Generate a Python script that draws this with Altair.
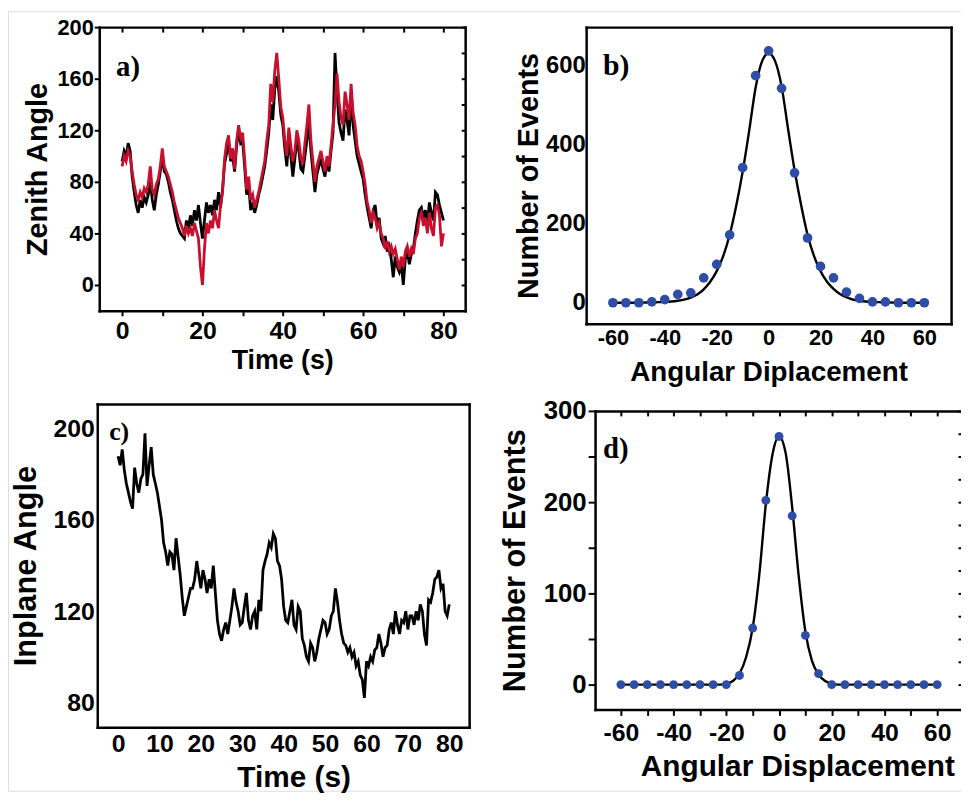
import altair as alt
import pandas as pd

# ---------------- data ----------------
TIME_STEP = 0.5  # s between samples

zenith_black = [
    96, 104, 100, 110, 104, 84, 72, 62, 56, 66,
    60, 68, 64, 70, 80, 66, 58, 70, 78, 88,
    100, 88, 86, 80, 72, 66, 58, 50, 44, 40,
    38, 36, 50, 44, 54, 46, 58, 50, 62, 48,
    36, 50, 64, 56, 62, 54, 66, 58, 72, 60,
    74, 94, 102, 112, 96, 100, 88, 108, 120, 110,
    112, 92, 70, 78, 58, 64, 56, 62, 70, 76,
    84, 92, 104, 118, 140, 128, 152, 162, 150, 132,
    124, 106, 92, 114, 100, 84, 98, 112, 104, 90,
    88, 100, 112, 126, 104, 88, 72, 86, 92, 98,
    90, 84, 96, 88, 104, 118, 180, 150, 126, 118,
    112, 136, 128, 116, 146, 124, 112, 100, 94, 88,
    82, 70, 60, 52, 44, 58, 62, 46, 52, 36,
    32, 38, 26, 30, 20, 6, 22, 14, 10, 16,
    0, 20, 26, 16, 24, 28, 40, 50, 58, 60,
    52, 58, 48, 64, 56, 50, 72, 70, 62, 56,
    50,
]

zenith_red = [
    92, 100, 96, 104, 100, 88, 78, 70, 66, 72,
    68, 75, 72, 78, 92, 74, 70, 78, 82, 92,
    106, 92, 88, 84, 78, 72, 64, 58, 52, 48,
    44, 38, 46, 40, 44, 38, 48, 42, 36, 14,
    0, 28, 48, 40, 50, 44, 58, 50, 44, 62,
    72, 98, 110, 116, 98, 106, 90, 112, 124, 114,
    118, 98, 74, 84, 66, 70, 60, 66, 72, 80,
    88, 96, 112, 124, 156, 142, 166, 180, 160, 138,
    130, 112, 100, 122, 108, 96, 104, 120, 112, 98,
    94, 110, 124, 140, 112, 96, 80, 92, 98, 104,
    96, 88, 100, 92, 108, 124, 140, 164, 142, 130,
    124, 150, 140, 128, 156, 134, 124, 108, 100, 96,
    88, 78, 64, 58, 48, 56, 52, 44, 48, 40,
    36, 28, 34, 26, 30, 24, 28, 20, 12, 22,
    14, 26, 30, 22, 28, 24, 36, 40, 52, 56,
    46, 52, 40, 56, 44, 38, 60, 62, 54, 30,
    40,
]

inplane = [
    188, 184, 191, 182, 176, 172, 168, 165, 183, 176,
    172, 178, 180, 198, 175, 184, 192, 180, 176, 172,
    166, 160, 150, 146, 140, 146, 145, 138, 152, 144,
    136, 126, 118, 122, 126, 130, 130, 134, 142, 136,
    130, 138, 134, 128, 134, 130, 140, 128, 116, 110,
    107, 112, 115, 110, 116, 122, 130, 124, 120, 114,
    115, 122, 128, 116, 112, 118, 120, 112, 125, 120,
    138, 142, 145, 150, 148, 154, 152, 142, 140, 134,
    122, 116, 115, 120, 125, 114, 112, 122, 120, 108,
    105, 100, 98, 106, 104, 98, 102, 108, 112, 116,
    115, 110, 112, 118, 120, 130, 124, 116, 110, 106,
    105, 102, 104, 100, 102, 96, 98, 92, 90, 82,
    98, 96, 100, 98, 103, 104, 110, 106, 100, 104,
    105, 112, 115, 110, 120, 114, 110, 116, 115, 120,
    112, 118, 118, 114, 120, 116, 123, 120, 110, 105,
    125, 124, 128, 134, 135, 138, 130, 132, 120, 118,
    123,
]

bin_angle = [-60, -55, -50, -45, -40, -35, -30, -25, -20, -15, -10, -5, 0,
             5, 10, 15, 20, 25, 30, 35, 40, 45, 50, 55, 60]
b_events = [0, 0, 0, 2, 8, 21, 25, 63, 97, 172, 342, 575, 638,
            543, 329, 164, 92, 63, 27, 11, 2, 2, 0, 0, 0]
d_events = [0, 0, 0, 0, 0, 0, 0, 0, 0, 10, 62, 202, 272,
            185, 54, 12, 0, 0, 0, 0, 0, 0, 0, 0, 0]

FIT_STEP = 2.5
b_fit = [0, 0, 0, 0, 0, 0.5, 1, 1.5, 2, 3, 5, 8, 13, 21, 34, 53, 80, 118, 172,
         245, 332, 435, 545, 612, 632, 612, 548, 440, 336, 248, 172, 118, 80,
         53, 35, 22, 14, 8, 5, 3, 2, 1.5, 1, 0.5, 0, 0, 0, 0, 0]
d_fit = [0, 0, 0, 0, 0, 0, 0, 0, 0, 0, 0, 0, 0, 0, 0, 0, 1,
         4, 12, 30, 62, 120, 198, 252, 272, 254, 194, 118, 58, 26, 11, 4,
         1, 0, 0, 0, 0, 0, 0, 0, 0, 0, 0, 0, 0, 0, 0, 0, 0]

times = [i * TIME_STEP for i in range(len(zenith_red))]
fit_angle = [-60 + i * FIT_STEP for i in range(len(b_fit))]

df_a = pd.DataFrame({"t": times, "black": zenith_black, "red": zenith_red})
df_c = pd.DataFrame({"t": times, "angle": inplane})
df_b = pd.DataFrame({"angle": bin_angle, "events": b_events})
df_bf = pd.DataFrame({"angle": fit_angle, "fit": b_fit})
df_d = pd.DataFrame({"angle": bin_angle, "events": d_events})
df_df = pd.DataFrame({"angle": fit_angle, "fit": d_fit})

# ---------------- styling helpers ----------------
W, H = 961, 786
FONT = "Liberation Sans"
SERIF = "Liberation Serif"
RED = "#C8102E"
BLUE = "#2E4DA7"
TRACE_W = 2.8


def axis(orient, offset, values=None, tick=None, labels=False, lsize=None,
         lpad=0, lexpr=None, title=None, tsize=None, tpad=0, titleX=None):
    kw = dict(orient=orient, offset=offset, domain=True, domainColor="#000000",
              domainWidth=2.5, domainOpacity=1, domainCap="square", grid=False)
    if values is not None:
        kw["values"] = values
    if tick is None:
        kw["ticks"] = False
    else:
        kw.update(ticks=True,
                  tickSize=tick if tick >= 0 else {"expr": str(tick)},
                  tickColor="#000000", tickWidth=2, tickOpacity=1)
    if labels:
        kw.update(labels=True, labelFont=FONT, labelFontSize=lsize,
                  labelFontWeight="bold", labelColor="#000000",
                  labelPadding=lpad, labelOverlap=False, labelFlush=False)
        if lexpr:
            kw["labelExpr"] = lexpr
    else:
        kw["labels"] = False
    if title:
        kw.update(title=title, titleFont=FONT, titleFontSize=tsize,
                  titleFontWeight="bold", titleColor="#000000", titlePadding=tpad)
        if titleX is not None:
            kw["titleX"] = titleX
    else:
        kw["title"] = None
    return alt.Axis(**kw)


def sc(domain, rng):
    return alt.Scale(domain=domain, range=rng, nice=False, zero=False)


def panel_label(text, x, y, size):
    return alt.Chart(pd.DataFrame({"lab": [text]})).mark_text(
        font=SERIF, fontWeight="bold", fontSize=size, align="left",
        baseline="alphabetic", color="black"
    ).encode(text="lab:N", x=alt.value(x), y=alt.value(y))


# ---------------- panel a ----------------
La, Ra, Ta, Ba = 92, 461, 16, 302
xa = sc([-5.7, 85.4], [La, Ra])
ya = sc([-20, 200], [Ba, Ta])
a1 = alt.Chart(df_a).mark_line(color="black", strokeWidth=TRACE_W).encode(
    x=alt.X("t:Q", scale=xa, axis=axis(
        "bottom", Ba - H, values=list(range(0, 81, 10)), tick=5, labels=True,
        lsize=25, lpad=3, lexpr="datum.value % 20 === 0 ? datum.label : ''",
        title="Time (s)", tsize=27, tpad=4)),
    y=alt.Y("black:Q", scale=ya, axis=axis(
        "left", -La, values=list(range(0, 201, 40)), tick=5, labels=True,
        lsize=22, lpad=1, title="Zenith Angle", tsize=29, tpad=4)),
)
a2 = alt.Chart(df_a).mark_line(color=RED, strokeWidth=TRACE_W).encode(
    x=alt.X("t:Q", scale=xa, axis=axis("top", -Ta, values=list(range(0, 81, 10)), tick=-5)),
    y=alt.Y("red:Q", scale=ya, axis=axis("right", Ra - W, values=list(range(0, 201, 20)), tick=-4)),
)

# ---------------- panel b ----------------
Lb, Rb, Tb, Bb = 583, 951, 16, 315
xb = sc([-70.3, 70.3], [Lb, Rb])
yb = sc([-53, 698], [Bb, Tb])
b1 = alt.Chart(df_bf).mark_line(color="black", strokeWidth=2.4, interpolate="monotone").encode(
    x=alt.X("angle:Q", scale=xb, axis=axis(
        "bottom", Bb - H, values=list(range(-60, 61, 20)), labels=True, lsize=22,
        lpad=4, lexpr="'' + datum.value", title="Angular Diplacement", tsize=28, tpad=10)),
    y=alt.Y("fit:Q", scale=yb, axis=axis(
        "left", -Lb, values=[0, 200, 400, 600], labels=True, lsize=24, lpad=1,
        title="Number of Events", tsize=29, tpad=2)),
)
b2 = alt.Chart(df_b).mark_circle(color=BLUE, size=95, opacity=1).encode(
    x=alt.X("angle:Q", scale=xb, axis=axis("top", -Tb)),
    y=alt.Y("events:Q", scale=yb, axis=axis("right", Rb - W)),
)

# ---------------- panel c ----------------
Lc, Rc, Tc, Bc = 90, 465, 396, 722
xc = sc([-5.03, 84.8], [Lc, Rc])
yc = sc([69.1, 210.9], [Bc, Tc])
c1 = alt.Chart(df_c).mark_line(color="black", strokeWidth=TRACE_W).encode(
    x=alt.X("t:Q", scale=xc, axis=axis(
        "bottom", Bc - H, values=list(range(0, 81, 10)), labels=True, lsize=25,
        lpad=4, title="Time (s)", tsize=30, tpad=7, titleX=288)),
    y=alt.Y("angle:Q", scale=yc, axis=axis(
        "left", -Lc, values=[80, 120, 160, 200], labels=True, lsize=25, lpad=3,
        title="Inplane Angle", tsize=31, tpad=11)),
)
c2 = alt.Chart(df_c).mark_line(strokeOpacity=0).encode(
    x=alt.X("t:Q", scale=xc, axis=axis("top", -Tc)),
    y=alt.Y("angle:Q", scale=yc, axis=axis("right", Rc - W)),
)

# ---------------- panel d ----------------
Ld, Rd, Td, Bd = 592, 963, 403, 704
xd = sc([-69.8, 69.8], [Ld, Rd])
yd = sc([-27.2, 300], [Bd, Td])
d1 = alt.Chart(df_df).mark_line(color="black", strokeWidth=2.4, interpolate="monotone").encode(
    x=alt.X("angle:Q", scale=xd, axis=axis(
        "bottom", Bd - H, values=list(range(-60, 61, 10)), tick=6, labels=True,
        lsize=25, lpad=5, lexpr="datum.value % 20 === 0 ? '' + datum.value : ''",
        title="Angular Displacement", tsize=30, tpad=7, titleX=796)),
    y=alt.Y("fit:Q", scale=yd, axis=axis(
        "left", -Ld, values=list(range(0, 301, 50)), tick=7, labels=True, lsize=26,
        lpad=2, lexpr="datum.value % 100 === 0 ? datum.label : ''",
        title="Number of Events", tsize=31, tpad=12)),
)
d2 = alt.Chart(df_d).mark_circle(color=BLUE, size=80, opacity=1).encode(
    x=alt.X("angle:Q", scale=xd, axis=axis("top", -Td, values=list(range(-60, 61, 10)), tick=-5)),
    y=alt.Y("events:Q", scale=yd, axis=axis("right", Rd - W, values=list(range(0, 301, 25)), tick=-5)),
)

chart = alt.layer(
    a1, a2, b1, b2, c1, c2, d1, d2,
    panel_label("a)", 109, 65, 29),
    panel_label("b)", 600, 64, 30),
    panel_label("c)", 102, 432, 26),
    panel_label("d)", 600, 450, 29),
).resolve_scale(x="independent", y="independent").resolve_axis(
    x="independent", y="independent"
).properties(
    width=W, height=H, padding=0, autosize=alt.AutoSizeParams(type="none")
).configure_view(strokeWidth=0).configure(background="white")

chart.save("out.html", embed_options={"renderer": "svg", "actions": False})
